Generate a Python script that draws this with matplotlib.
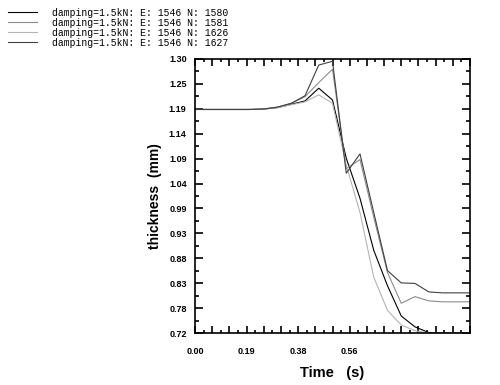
import matplotlib
matplotlib.use("Agg")
import matplotlib.pyplot as plt
import numpy as np
from matplotlib.ticker import FixedLocator, FixedFormatter

# time steps (s)
t = [0.00, 0.05, 0.10, 0.15, 0.20, 0.25, 0.30, 0.35, 0.40, 0.45, 0.50,
     0.55, 0.60, 0.65, 0.70, 0.75, 0.80, 0.85, 0.90, 0.95, 1.00]

# thickness (mm) for each element
th_1580 = [1.193, 1.193, 1.193, 1.193, 1.193, 1.194, 1.197, 1.204, 1.211, 1.238, 1.213,
           1.090, 1.005, 0.895, 0.820, 0.756, 0.733, 0.721, 0.720, 0.720, 0.720]
th_1581 = [1.193, 1.193, 1.193, 1.193, 1.193, 1.194, 1.198, 1.206, 1.220, 1.250, 1.278,
           1.068, 1.087, 0.965, 0.848, 0.783, 0.797, 0.788, 0.786, 0.786, 0.786]
th_1626 = [1.193, 1.193, 1.193, 1.193, 1.193, 1.194, 1.197, 1.203, 1.209, 1.224, 1.206,
           1.075, 0.975, 0.838, 0.768, 0.737, 0.725, 0.720, 0.720, 0.720, 0.720]
th_1627 = [1.193, 1.193, 1.193, 1.193, 1.193, 1.194, 1.198, 1.206, 1.222, 1.287, 1.295,
           1.058, 1.099, 0.975, 0.852, 0.826, 0.825, 0.807, 0.805, 0.805, 0.805]

labels = ["damping=1.5kN: E: 1546 N: 1580",
          "damping=1.5kN: E: 1546 N: 1581",
          "damping=1.5kN: E: 1546 N: 1626",
          "damping=1.5kN: E: 1546 N: 1627"]
colors = ["#000000", "#8c8c8c", "#b4b4b4", "#404040"]

ytick_labels = ["0.72", "0.78", "0.83", "0.88", "0.93", "0.99",
                "1.04", "1.09", "1.14", "1.19", "1.25", "1.30"]
xtick_labels = ["0.00", "", "", "0.19", "", "", "0.38", "", "", "0.56",
                "", "", "", "", "", "", ""]

font = "Liberation Sans"

fig = plt.figure(figsize=(5, 3.85), dpi=100)
ax = fig.add_axes([0.39, 0.135, 0.55, 0.712])

lines = []
for ys, c in zip([th_1580, th_1581, th_1626, th_1627], colors):
    l, = ax.plot(t, ys, color=c, lw=0.8)
    lines.append(l)

ax.set_xlim(0, 1.0)
ax.set_ylim(0.72, 1.30)

ax.xaxis.set_major_locator(FixedLocator(np.arange(0, 1.0001, 1 / 16)))
ax.xaxis.set_major_formatter(FixedFormatter(xtick_labels))
ax.xaxis.set_minor_locator(FixedLocator(np.arange(0, 1.0001, 1 / 32)))
yt = np.linspace(0.72, 1.30, 12)
ax.yaxis.set_major_locator(FixedLocator(yt))
ax.yaxis.set_major_formatter(FixedFormatter(ytick_labels))
ax.yaxis.set_minor_locator(FixedLocator((yt[:-1] + yt[1:]) / 2))

ax.tick_params(which="both", direction="in", top=True, right=True, width=1.2)
ax.tick_params(axis="x", which="major", length=5, pad=10)
ax.tick_params(axis="x", which="minor", length=2.5)
ax.tick_params(axis="y", which="major", length=6, pad=6)
ax.tick_params(axis="y", which="minor", length=3)
for lab in ax.get_xticklabels() + ax.get_yticklabels():
    lab.set_family(font)
    lab.set_fontweight("bold")
    lab.set_fontsize(6.5)
for s in ax.spines.values():
    s.set_linewidth(1.2)

ax.set_xlabel("Time   (s)", family=font, fontweight="bold", fontsize=10.5, labelpad=7)
ax.set_ylabel("thickness  (mm)", family=font, fontweight="bold", fontsize=10, labelpad=5)

fig.legend(lines, labels, loc="upper left", bbox_to_anchor=(0.0, 1.0), frameon=False,
           prop={"family": "Liberation Mono", "size": 7}, handlelength=3.0,
           handletextpad=1.6, labelspacing=0.0, borderaxespad=0.4)

fig.savefig("out.png", dpi=100)
